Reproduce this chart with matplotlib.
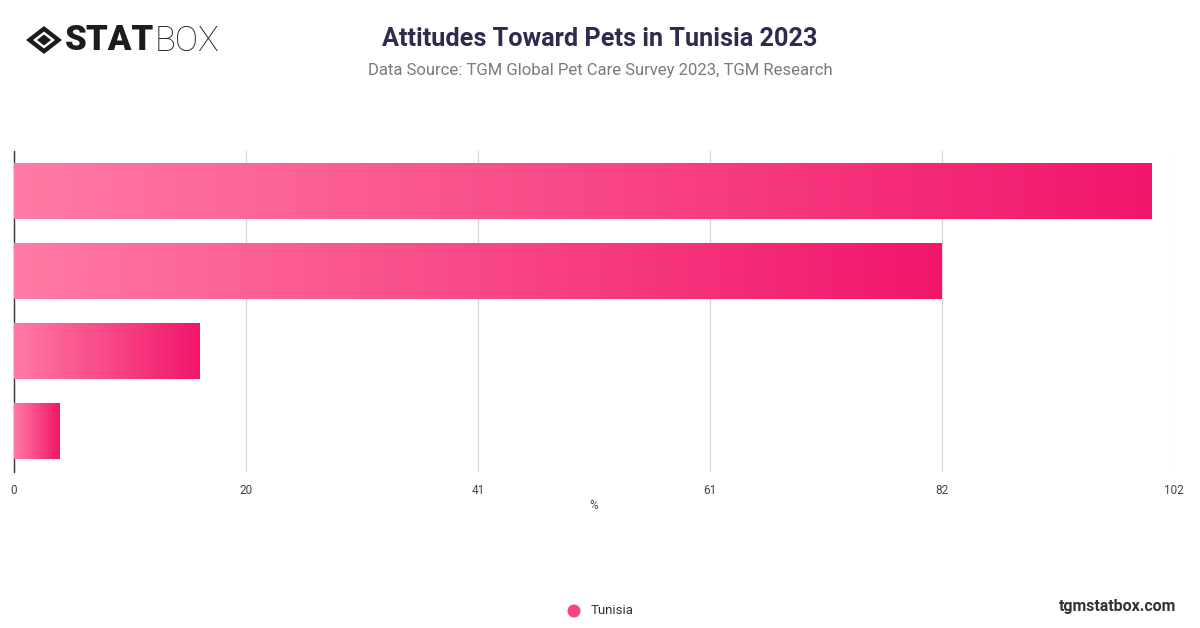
import matplotlib
matplotlib.use("Agg")
import matplotlib.pyplot as plt
import numpy as np
from matplotlib.colors import LinearSegmentedColormap
from matplotlib.patches import Polygon, Circle

categories = ["Response A", "Response B", "Response C", "Response D"]
values = [100.0, 81.6, 16.3, 4.0]
tick_values = [0, 20.4, 40.8, 61.2, 81.6, 102]
tick_labels = ["0", "20", "41", "61", "82", "102"]
series_name = "Tunisia"

plt.rcParams['font.family'] = ['Roboto', 'DejaVu Sans']

fig = plt.figure(figsize=(12, 6.28), dpi=100)
ax = fig.add_axes([14/1200, (628-472)/628, (1174-14)/1200, (472-151)/628])

cmap = LinearSegmentedColormap.from_list("pink", ["#ff7aa4", "#f2166b"])
grad = np.linspace(0, 1, 256).reshape(1, -1)

n = len(values)
bar_h = 0.686
for i, v in enumerate(values):
    y = i
    ax.imshow(grad, cmap=cmap, aspect='auto', extent=[0, v, y + bar_h/2, y - bar_h/2],
              zorder=3, interpolation='bicubic')

ax.set_xlim(0, 102)
ax.set_ylim(n - 0.5, -0.5)
ax.set_xticks(tick_values)
ax.set_xticklabels(tick_labels, fontsize=8.5, color="#444444")
ax.set_yticks([])
ax.tick_params(axis='x', length=0, pad=9)
ax.grid(axis='x', color="#d6d6d6", linewidth=0.9, zorder=0)
for s in ["top", "right", "bottom"]:
    ax.spines[s].set_visible(False)
ax.spines["left"].set_color("#333333")
ax.spines["left"].set_linewidth(1.0)
ax.set_xlabel("%", fontsize=8.5, color="#444444", labelpad=1)

# Titles
fig.text(600/1200, 1 - 39/628, "Attitudes Toward Pets in Tunisia 2023", ha='center', va='center',
         fontsize=18.2, fontweight='bold', color="#2e2b4f")
fig.text(600/1200, 1 - 71/628, "Data Source: TGM Global Pet Care Survey 2023, TGM Research",
         ha='center', va='center', fontsize=12, color="#7a7a7a")

# Logo
lax = fig.add_axes([0, 1 - 60/628, 240/1200, 40/628])
lax.set_xlim(0, 240)
lax.set_ylim(60, 20)
lax.axis('off')
cx, cy = 44, 40
lax.add_patch(Polygon([[cx-18, cy], [cx, cy-14], [cx+18, cy], [cx, cy+14]], closed=True,
                      facecolor="#1c1c1c", edgecolor='none'))
lax.add_patch(Polygon([[cx-11, cy], [cx, cy-8.5], [cx+11, cy], [cx, cy+8.5]], closed=True,
                      facecolor="white", edgecolor='none'))
lax.add_patch(Polygon([[cx-7, cy], [cx, cy-5.5], [cx+7, cy], [cx, cy+5.5]], closed=True,
                      facecolor="#1c1c1c", edgecolor='none'))
lax.text(65, 41, "STAT", fontsize=25, fontweight='heavy', color="#1c1c1c", va='center', ha='left')
lax.text(155, 41, "BOX", fontsize=25, fontweight='light', color="#1c1c1c", va='center', ha='left')

# Legend
leg_ax = fig.add_axes([0, 0, 1, 1], facecolor='none')
leg_ax.set_xlim(0, 1200)
leg_ax.set_ylim(628, 0)
leg_ax.axis('off')
leg_ax.add_patch(Circle((574, 611), 6.5, facecolor="#f5447f", edgecolor='none'))
leg_ax.text(591, 611, series_name, fontsize=9.5, color="#333333", va='center', ha='left')
leg_ax.text(1176, 606, "tgmstatbox.com", fontsize=11.5, fontweight='bold', color="#333333",
            va='center', ha='right')

fig.savefig("out.png", dpi=100)
